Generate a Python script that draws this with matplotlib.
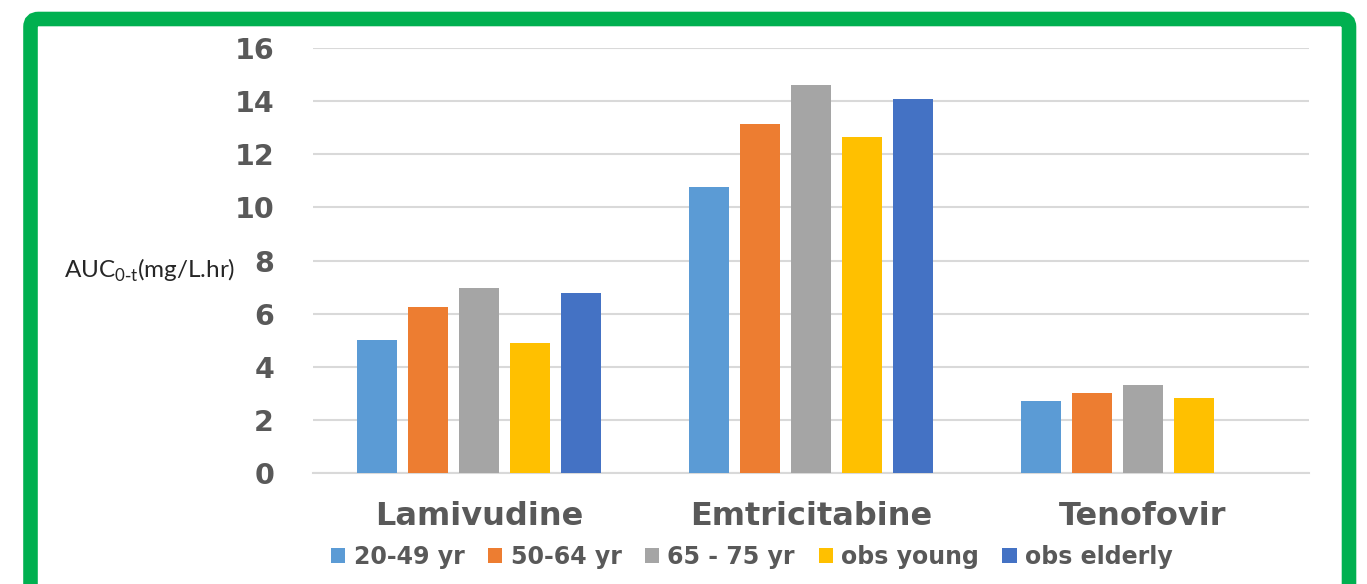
import matplotlib
matplotlib.use("Agg")
import matplotlib.pyplot as plt
from matplotlib.patches import FancyBboxPatch, Patch
from matplotlib.transforms import IdentityTransform
import numpy as np

# AUC(0-t) by drug and age group
drugs = ["Lamivudine", "Emtricitabine", "Tenofovir"]
series_names = ["20-49 yr", "50-64 yr", "65 - 75 yr", "obs young", "obs elderly"]
age_20_49 = [5.0, 10.77, 2.71]
age_50_64 = [6.25, 13.14, 3.01]
age_65_75 = [6.97, 14.6, 3.31]
obs_young = [4.9, 12.65, 2.82]
obs_elderly = [6.78, 14.08, np.nan]
yticks = [0, 2, 4, 6, 8, 10, 12, 14, 16]

series_values = [age_20_49, age_50_64, age_65_75, obs_young, obs_elderly]
colors = ["#5B9BD5", "#ED7D31", "#A5A5A5", "#FFC000", "#4472C4"]
text_gray = "#595959"
grid_gray = "#D9D9D9"

W, H = 1367, 584
fig = plt.figure(figsize=(W / 100, H / 100), dpi=100)
ax = fig.add_axes([313 / W, 1 - 473 / H, (1309 - 313) / W, (473 - 48) / H])

x = np.arange(len(drugs))
bar_w = 0.12
step = 0.1535
for i, (vals, c) in enumerate(zip(series_values, colors)):
    offs = (i - 2) * step
    ax.bar(x + offs, vals, width=bar_w, color=c, zorder=3, label=series_names[i])

ax.set_xlim(-0.5, 2.5)
ax.set_ylim(0, 16)
ax.set_yticks(yticks)
ax.set_yticklabels([str(t) for t in yticks], fontsize=20.5, fontweight="bold",
                   color=text_gray)
ax.set_xticks(x)
ax.set_xticklabels(drugs, fontsize=23, fontweight="bold", color=text_gray)
ax.tick_params(axis="both", length=0)
ax.tick_params(axis="y", pad=28)
ax.tick_params(axis="x", pad=20)
ax.grid(axis="y", color=grid_gray, linewidth=1.5, zorder=0)
for s in ["top", "right", "left"]:
    ax.spines[s].set_visible(False)
ax.spines["bottom"].set_color(grid_gray)
ax.spines["bottom"].set_linewidth(1.5)

# axis title placed beside the tick labels
fig.text(64 / W, 1 - 270 / H, r"AUC$_{\mathregular{0\text{-}t}}$(mg/L.hr)",
         fontsize=17.5, family="Lato", color="#262626", ha="left", va="center")

handles = [Patch(facecolor=c, edgecolor="none") for c in colors]
fig.legend(handles, series_names, loc="center", ncol=5,
           bbox_to_anchor=(752 / W, 1 - 557 / H), frameon=False,
           prop={"size": 17, "weight": "bold"}, labelcolor=text_gray,
           handlelength=0.6, handleheight=0.6, handletextpad=0.35,
           columnspacing=1.0, borderaxespad=0)

# green rounded frame around the chart
frame = FancyBboxPatch((30.5, -40), 1349 - 30.5, (584 - 19) + 40,
                       boxstyle="round,pad=0,rounding_size=8",
                       transform=IdentityTransform(), fill=False,
                       edgecolor="#00B050", linewidth=10.5)
fig.patches.append(frame)

fig.savefig("out.png", dpi=100)
